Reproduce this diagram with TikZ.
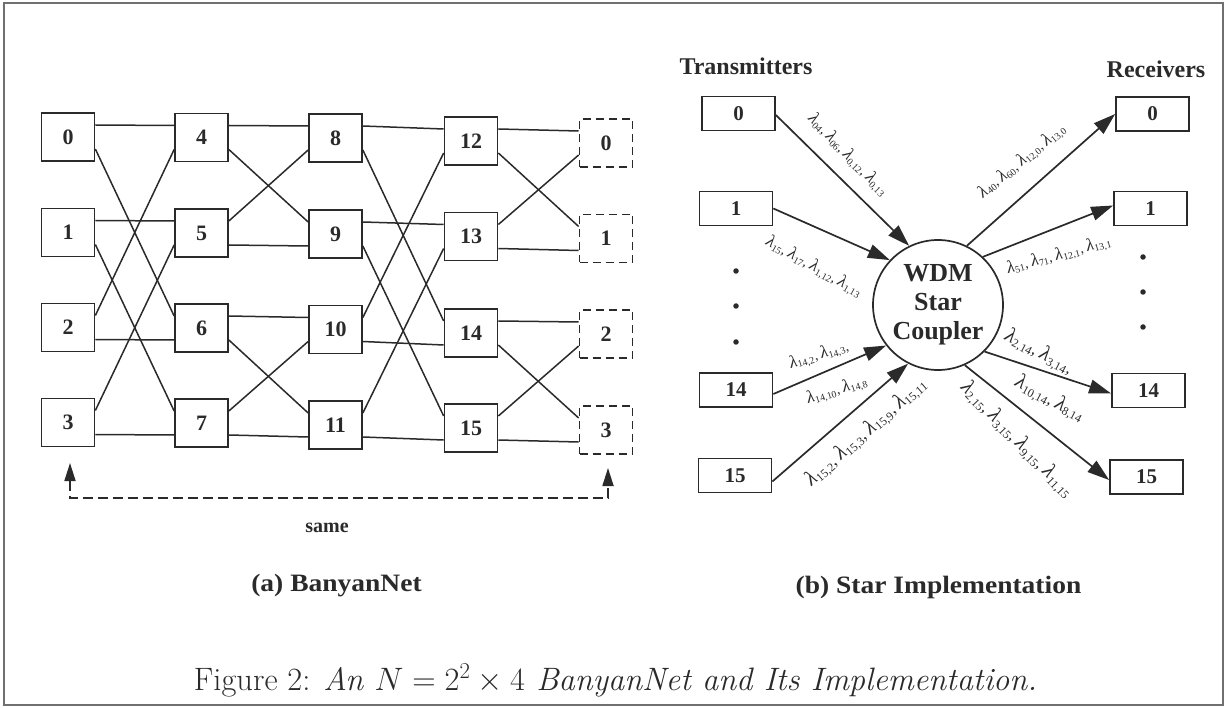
\RequirePackage{fix-cm}
\documentclass[tikz,border=0pt]{standalone}
\usepackage{fontspec}
\usepackage{graphicx}
\usetikzlibrary{arrows.meta}
\newfontfamily\tim{Liberation Serif}
\definecolor{ink}{HTML}{2A2A2A}
\definecolor{framec}{HTML}{707070}
\newcommand\lam[1]{\scalebox{1.25}{\itshape λ}\textsubscript{#1}}
\newcommand\bfly[4]{%
  \draw[wire] ([yshift=12pt]#1.east) -- ([yshift=12pt]#3.west);
  \draw[wire] ([yshift=-12pt]#1.east) -- ([yshift=12pt]#4.west);
  \draw[wire] ([yshift=12pt]#2.east) -- ([yshift=-12pt]#3.west);
  \draw[wire] ([yshift=-12pt]#2.east) -- ([yshift=-12pt]#4.west);}
\begin{document}
\begin{tikzpicture}[x=1pt,y=-1pt,
  sw/.style={draw=ink, line width=1.7pt, minimum width=53pt, minimum height=48pt, inner sep=0pt,
    font=\tim\bfseries\fontsize{22}{22}\selectfont, text=ink},
  dsw/.style={sw, dash pattern=on 8pt off 5pt},
  wire/.style={draw=ink, line width=1.5pt},
  trx/.style={draw=ink, line width=1.7pt, minimum width=73pt, minimum height=34pt, inner sep=0pt,
    font=\tim\bfseries\fontsize{21}{21}\selectfont, text=ink},
  arr/.style={draw=ink, line width=1.7pt, -{Triangle[length=22pt,width=14pt]}},
  lab/.style={font=\tim\fontsize{14}{16}\selectfont, text=ink, inner sep=0pt},
  labb/.style={font=\tim\fontsize{17}{19}\selectfont, text=ink, inner sep=0pt},
  head/.style={font=\tim\bfseries\fontsize{24}{24}\selectfont, text=ink, anchor=base},
  dotc/.style={circle, fill=ink, minimum size=5.5pt, inner sep=0pt}]
\useasboundingbox (0,0) rectangle (1226,708);
\draw[framec, line width=1.5pt] (4,3) rectangle (1223,705);

% ---- (a) BanyanNet ----
\node[sw] (n0) at (68,137) {0};
\node[sw] (n1) at (68,232.5) {1};
\node[sw] (n2) at (68,327.5) {2};
\node[sw] (n3) at (68,422.5) {3};
\node[sw] (n4) at (201.5,137.5) {4};
\node[sw] (n5) at (201.5,233) {5};
\node[sw] (n6) at (201.5,328) {6};
\node[sw] (n7) at (201.5,423) {7};
\node[sw] (n8) at (335.5,138) {8};
\node[sw] (n9) at (335.5,234) {9};
\node[sw] (n10) at (335.5,329.5) {10};
\node[sw] (n11) at (335.5,425) {11};
\node[sw] (n12) at (471,141) {12};
\node[sw] (n13) at (471,236.5) {13};
\node[sw] (n14) at (471,333) {14};
\node[sw] (n15) at (471,428) {15};
\node[dsw] (o0) at (606,143) {0};
\node[dsw] (o1) at (606,238.5) {1};
\node[dsw] (o2) at (606,334) {2};
\node[dsw] (o3) at (606,430) {3};

\bfly{n0}{n2}{n4}{n6}
\bfly{n1}{n3}{n5}{n7}
\bfly{n4}{n5}{n8}{n9}
\bfly{n6}{n7}{n10}{n11}
\bfly{n8}{n10}{n12}{n14}
\bfly{n9}{n11}{n13}{n15}
\bfly{n12}{n13}{o0}{o1}
\bfly{n14}{n15}{o2}{o3}

\coordinate (fl) at (70,463);
\coordinate (fr) at (608,468);
\draw[ink, line width=1.7pt, dash pattern=on 10pt off 5pt,
  {Triangle[length=18pt,width=11pt]}-{Triangle[length=18pt,width=11pt]}]
  (fl) -- ++(0,35) -| (fr);
\node[font=\tim\bfseries\fontsize{20}{20}\selectfont, text=ink, anchor=base] (same) at (327,532) {same};

\node[font=\tim\bfseries\fontsize{25}{25}\selectfont, text=ink, anchor=base] (capa) at (336.5,591)
  {\scalebox{1.1}[1]{(a) BanyanNet}};

% ---- (b) Star implementation ----
\node[head] (th) at (746,75) {Transmitters};
\node[head] (rh) at (1156,78) {Receivers};

\node[trx] (t0) at (738.5,113.5) {0};
\node[trx] (t1) at (736,208.5) {1};
\node[trx] (t14) at (736,390) {14};
\node[trx] (t15) at (735,475.5) {15};
\node[trx] (r0) at (1152.5,114) {0};
\node[trx] (r1) at (1150.5,208.5) {1};
\node[trx] (r14) at (1148.5,390.5) {14};
\node[trx] (r15) at (1146.5,477) {15};

\node[draw=ink, line width=1.7pt, circle, minimum size=130pt, inner sep=0pt, align=center,
  font=\tim\bfseries\fontsize{26}{29}\selectfont, text=ink] (wdm) at (938,305) {WDM\\Star\\Coupler};

\node[dotc] (dl1) at (736,271) {};
\node[dotc] (dl2) at (736,306) {};
\node[dotc] (dl3) at (736,342) {};
\node[dotc] (dr1) at (1143,257) {};
\node[dotc] (dr2) at (1143,292) {};
\node[dotc] (dr3) at (1143,327) {};

\draw[arr] ([yshift=-1.5pt]t0.east) -- (wdm.116.6);
\draw[arr] (t1.east) -- (wdm.137);
\draw[arr] ([yshift=-4pt]t14.east) -- (wdm.218);
\draw[arr] ([yshift=-6pt]t15.east) -- (wdm.243);
\draw[arr] (wdm.64) -- (r0.west);
\draw[arr] (wdm.47) -- ([yshift=3pt]r1.west);
\draw[arr] (wdm.-45.6) -- ([yshift=-3pt]r14.west);
\draw[arr] (wdm.-66) -- ([yshift=-3pt]r15.west);

\node[lab, rotate=-46] (l1) at (848,155) {\lam{04}, \lam{06}, \lam{0,12}, \lam{0,13}};
\node[lab, rotate=-29] (l2) at (814,267) {\lam{15}, \lam{17}, \lam{1,12}, \lam{1,13}};
\node[lab, rotate=17] (l3a) at (819,355) {\lam{14,2}, \lam{14,3},};
\node[lab, rotate=17] (l3b) at (837,390) {\lam{14,10}, \lam{14,8}};
\node[labb, rotate=41] (l4) at (866,432) {\lam{15,2}, \lam{15,3}, \lam{15,9}, \lam{15,11}};
\node[lab, rotate=39] (l5) at (1022,161) {\lam{40}, \lam{60}, \lam{12,0}, \lam{13,0}};
\node[lab, rotate=15] (l6) at (1059,255) {\lam{51}, \lam{71}, \lam{12,1}, \lam{13,1}};
\node[labb, rotate=-28] (l7a) at (1039,352) {\lam{2,14}, \lam{3,14},};
\node[labb, rotate=-28] (l7b) at (1050,399) {\lam{10,14}, \lam{8,14}};
\node[labb, rotate=-46] (l8) at (1017,440) {\lam{2,15}, \lam{3,15}, \lam{9,15}, \lam{11,15}};

\node[font=\tim\bfseries\fontsize{25}{25}\selectfont, text=ink, anchor=base] (capb) at (938.5,593)
  {\scalebox{1.1}[1]{(b) Star Implementation}};

% ---- caption ----
\node[font=\fontsize{30}{30}\selectfont, text=ink, anchor=base] (cap) at (615.5,690)
  {\resizebox{843pt}{!}{Figure 2: \textit{An $N=2^2\times 4$ BanyanNet and Its Implementation.}}};
\end{tikzpicture}
\end{document}
